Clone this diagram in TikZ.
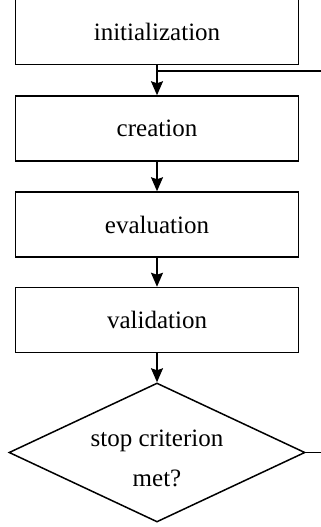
\documentclass[tikz,border=0pt]{standalone}
\usepackage{fontspec}
\setmainfont{Liberation Serif}
\usetikzlibrary{shapes.geometric,arrows.meta}
\tikzset{
  stepbox/.style={draw, line width=1.5pt, minimum width=283pt, minimum height=65pt, inner sep=0pt,
    font=\fontsize{25}{40}\selectfont},
  decision/.style={draw, diamond, line width=1.5pt, minimum width=296pt, minimum height=139pt, inner sep=0pt,
    aspect=2.13, align=center, font=\fontsize{25}{40}\selectfont},
  flow/.style={line width=1.5pt, -{Stealth[length=14pt,width=12pt,inset=2pt]}},
  plain/.style={line width=1.5pt}
}
\begin{document}
\begin{tikzpicture}[x=1pt,y=-1pt]
\clip (0,0) rectangle (321,527);
\useasboundingbox (0,0) rectangle (321,527);
\node[stepbox] (init) at (157,32) {initialization};
\node[stepbox] (creation) at (157,128.5) {creation};
\node[stepbox] (eval) at (157,224.5) {evaluation};
\node[stepbox] (valid) at (157,320) {validation};
\node[decision] (stop) at (157,452.5) {};
\node[align=center, font=\fontsize{25}{40}\selectfont] (stoptext) at (157,458) {stop criterion\\met?};
\coordinate (join) at (157,71);
\coordinate (loopend) at (340,71);
\coordinate (stopend) at (340,452.5);
\draw[flow] (init) -- (creation);
\draw[plain] (join) -- (loopend);
\draw[flow] (creation) -- (eval);
\draw[flow] (eval) -- (valid);
\draw[flow] (valid) -- (stop);
\draw[plain] (stop.east) -- (stopend);
\end{tikzpicture}
\end{document}
